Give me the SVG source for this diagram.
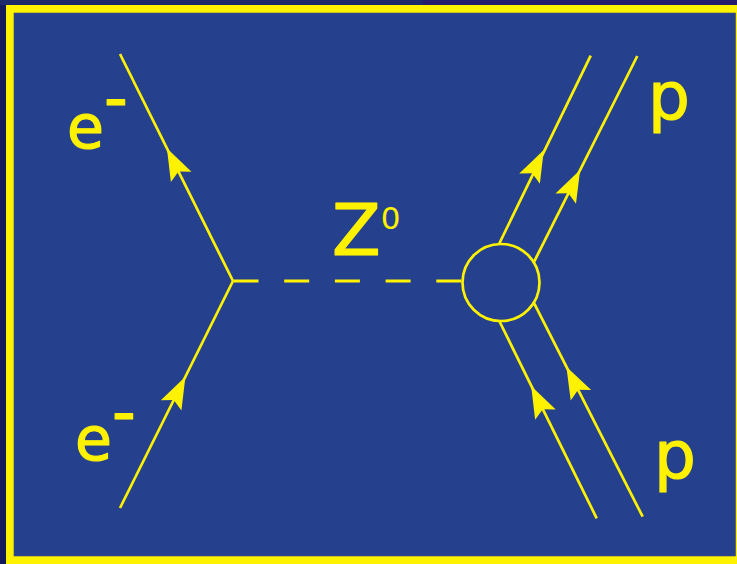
<svg xmlns="http://www.w3.org/2000/svg" xmlns:xlink="http://www.w3.org/1999/xlink" width="737" height="564" viewBox="0 0 737 564">
  <style>
    .ln { stroke: #fff200; stroke-width: 2.7; fill: none; stroke-linecap: butt; }
    .dash { stroke: #fff200; stroke-width: 3; fill: none; stroke-dasharray: 25 25.7; }
    .ah { fill: #fff200; stroke: none; }
    .lbl { fill: #fff200; stroke: #fff200; stroke-width: 1.2; stroke-linejoin: round; font-family: "DejaVu Sans", "Noto Sans", sans-serif; }
  </style>
  <defs>
    <path id="arr" d="M0,0 L-32,-11.5 L-26,0 L-32,11.5 Z"/>
  </defs>

  <g id="frame">
    <rect x="0" y="0" width="737" height="564" fill="#141b5a"/>
    <rect x="0" y="0" width="423" height="5" fill="#1c2a6b"/>
    <rect x="423" y="0" width="314" height="5" fill="#241c6c"/>
    <rect x="6" y="5" width="731" height="559" fill="#fff200"/>
    <rect x="14" y="13" width="721.5" height="543" fill="#25418e" stroke="#3a4a7a" stroke-width="0.6"/>
  </g>

  <g id="connectors">
    <line class="ln" x1="233" y1="281" x2="120" y2="54"/>
    <line class="ln" x1="233" y1="281" x2="120" y2="508"/>
    <line class="dash" x1="233.5" y1="281" x2="462" y2="281"/>
    <line class="ln" x1="499.3" y1="243.5" x2="590.7" y2="55.7"/>
    <line class="ln" x1="533.3" y1="263.3" x2="637.3" y2="56"/>
    <line class="ln" x1="499.3" y1="321" x2="596.7" y2="518.3"/>
    <line class="ln" x1="533.3" y1="301.7" x2="642.7" y2="516.7"/>
    <use class="ah" xlink:href="#arr" href="#arr" transform="translate(166.9,148.3) rotate(-116.5)"/>
    <use class="ah" xlink:href="#arr" href="#arr" transform="translate(185.4,376.7) rotate(-63.5)"/>
    <use class="ah" xlink:href="#arr" href="#arr" transform="translate(543.8,150) rotate(-63.6)"/>
    <use class="ah" xlink:href="#arr" href="#arr" transform="translate(580.1,170) rotate(-63.3)"/>
    <use class="ah" xlink:href="#arr" href="#arr" transform="translate(531.2,386) rotate(-116.4)"/>
    <use class="ah" xlink:href="#arr" href="#arr" transform="translate(566.4,366.7) rotate(-117)"/>
  </g>

  <g id="blob">
    <circle class="ln" cx="501" cy="282.5" r="38.5"/>
  </g>

  <g id="label-e-top">
    <text class="lbl" x="67" y="147.5" font-size="60">e</text>
    <text class="lbl" x="104" y="120.4" font-size="66" stroke-width="0">-</text>
  </g>
  <g id="label-e-bottom">
    <text class="lbl" x="75" y="460" font-size="60">e</text>
    <text class="lbl" x="112" y="433.7" font-size="66" stroke-width="0">-</text>
  </g>
  <g id="label-z">
    <text class="lbl" x="332" y="255" font-size="71" stroke-width="2.5">Z<tspan font-size="31" stroke-width="0" dy="-25.7">0</tspan></text>
  </g>
  <g id="label-p-top">
    <text class="lbl" x="648" y="119" font-size="66">p</text>
  </g>
  <g id="label-p-bottom">
    <text class="lbl" x="654" y="478" font-size="66">p</text>
  </g>
</svg>
